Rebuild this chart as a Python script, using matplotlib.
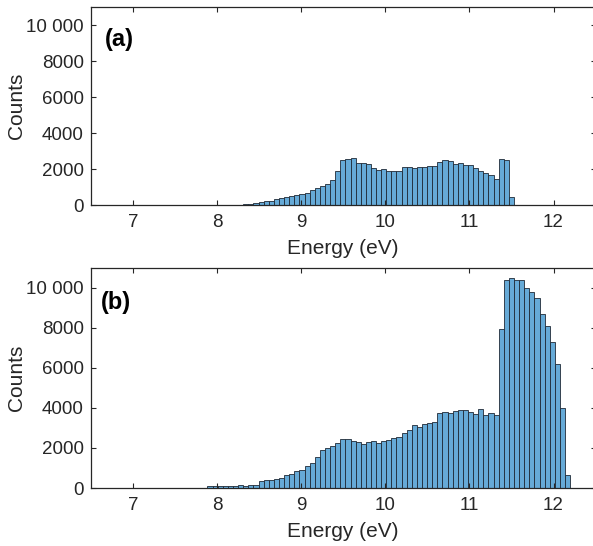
import numpy as np
import matplotlib
matplotlib.use('Agg')
import matplotlib.pyplot as plt
from matplotlib.ticker import FuncFormatter

plt.rcParams['font.family'] = ['Liberation Sans', 'DejaVu Sans']

# Histogram bins (eV): common grid for both panels
bin_start = 8.434
bin_width = 0.0607

# Panel (a): first bin index and counts
a_first_bin = -3
a_counts = [20, 30, 40,
            95, 190, 245, 245, 320, 390, 430, 505, 560, 600,
            670, 840, 935, 1045, 1160, 1400, 1870, 2500, 2560, 2615,
            2335, 2335, 2280, 2055, 1960, 2000, 1870, 1870, 1870, 2130,
            2130, 2055, 2110, 2130, 2165, 2165, 2390, 2485, 2430, 2300,
            2355, 2225, 2240, 2075, 1905, 1810, 1660, 1455, 2575, 2500,
            465]

# Panel (b): first bin index and counts
b_first_bin = -9
b_counts = [80, 80, 80, 115, 115, 115, 150, 100, 150, 150,
            335, 385, 385, 465, 515, 630, 680, 830, 880, 1115,
            1230, 1530, 1915, 2015, 2095, 2230,
            2430, 2465, 2330, 2295, 2195, 2280, 2330, 2245, 2345, 2415,
            2480, 2545, 2745, 2880, 3130, 3030, 3195, 3245, 3280, 3730,
            3810, 3730, 3830,
            3880, 3880, 3780, 3695, 3930, 3630, 3760, 3630, 7940, 10370,
            10470, 10370, 10370, 9970, 9800, 9470, 8670, 8090, 7305, 6205,
            3980, 635]

panel_labels = ['(a)', '(b)']
x_ticks = [7, 8, 9, 10, 11, 12]
y_ticks = [0, 2000, 4000, 6000, 8000, 10000]

text_color = '#262626'
face = '#66aad7'


def count_fmt(v, _):
    if v >= 10000:
        return f'{v:,.0f}'.replace(',', ' ')
    return f'{v:.0f}'


fig = plt.figure(figsize=(5.93, 5.46), dpi=100)
ax_a = fig.add_axes([0.153, 0.6245, 0.8514, 0.362])
ax_b = fig.add_axes([0.153, 0.1062, 0.8514, 0.4035])

panels = [(ax_a, a_first_bin, a_counts, 0.835, 0.028),
          (ax_b, b_first_bin, b_counts, 0.840, 0.02)]

for (ax, first, counts, ly, lx), lab in zip(panels, panel_labels):
    idx = np.arange(first, first + len(counts))
    left_edges = bin_start + idx * bin_width
    ax.bar(left_edges, counts, width=bin_width, align='edge',
           color=face, edgecolor='#1f2a36', linewidth=0.6)
    ax.set_xlim(6.5, 12.5)
    ax.set_ylim(0, 11000)
    ax.set_xticks(x_ticks)
    ax.set_yticks(y_ticks)
    ax.yaxis.set_major_formatter(FuncFormatter(count_fmt))
    ax.tick_params(direction='in', top=True, right=True, length=3.6,
                   width=0.8, colors=text_color, labelsize=13.5)
    ax.tick_params(axis='x', pad=6.5)
    ax.tick_params(axis='y', pad=5)
    for s in ax.spines.values():
        s.set_color(text_color)
        s.set_linewidth(0.9)
    ax.set_xlabel('Energy (eV)', fontsize=15, color=text_color, va='center')
    ax.set_ylabel('Counts', fontsize=15, color=text_color, va='center')
    ax.yaxis.set_label_coords(-0.1466, 0.5)
    ax.text(lx, ly, lab, transform=ax.transAxes, fontsize=17,
            fontweight='bold', va='center', ha='left', color='black')

ax_a.xaxis.set_label_coords(0.5, -0.219)
ax_b.xaxis.set_label_coords(0.5, -0.197)

fig.savefig('out.png', dpi=100)
